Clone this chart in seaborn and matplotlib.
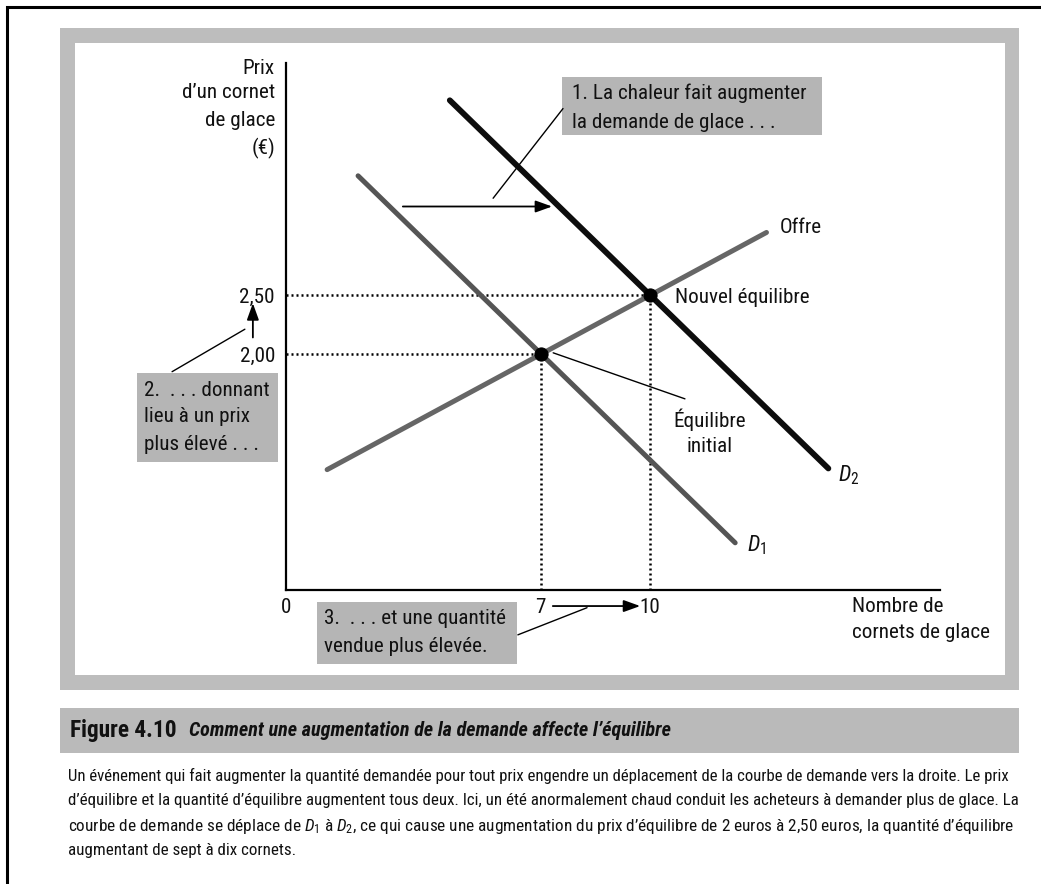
import seaborn as sns
import matplotlib.pyplot as plt
from matplotlib import font_manager as fm
from matplotlib.patches import Rectangle

plt.switch_backend("Agg")

W, H = 1041, 884

# values (quantity, price)
supply_q = [1.13, 13.2]
supply_p = [1.02, 3.03]
d1_q = [1.98, 12.34]
d1_p = [3.51, 0.40]
d2_q = [4.5, 14.9]
d2_p = [4.15, 1.03]
eq_q = [7, 10]
eq_p = [2.00, 2.50]
x_ticks = [0, 7, 10]
y_ticks = [2.00, 2.50]

caption_lines = [
    "Un événement qui fait augmenter la quantité demandée pour tout prix engendre un déplacement de la courbe de demande vers la droite. Le prix",
    "d’équilibre et la quantité d’équilibre augmentent tous deux. Ici, un été anormalement chaud conduit les acheteurs à demander plus de glace. La",
    "courbe de demande se déplace de $D_1$ à $D_2$, ce qui cause une augmentation du prix d’équilibre de 2 euros à 2,50 euros, la quantité d’équilibre",
    "augmentant de sept à dix cornets.",
]

sns.set_theme(style="white")

# pick a condensed face if one is installed
names = {f.name for f in fm.fontManager.ttflist}
narrow, stretch = None, "normal"
for cand in ["Liberation Sans Narrow", "Roboto Condensed", "Open Sans Condensed"]:
    if cand in names:
        narrow = cand
        break
if narrow is None:
    narrow = "DejaVu Sans"
    if any(f.name == "DejaVu Sans" and str(f.stretch) == "condensed" for f in fm.fontManager.ttflist):
        stretch = "condensed"
plt.rcParams["font.family"] = [narrow, "DejaVu Sans"]
plt.rcParams["font.stretch"] = stretch
plt.rcParams["mathtext.fontset"] = "custom"
plt.rcParams["mathtext.rm"] = narrow
plt.rcParams["mathtext.it"] = narrow + ":italic"

fig = plt.figure(figsize=(W / 100, H / 100), dpi=100)
renderer = fig.canvas.get_renderer()

# overlay in pixel coordinates for the page furniture
ov = fig.add_axes([0, 0, 1, 1], zorder=0)
ov.set_xlim(0, W)
ov.set_ylim(H, 0)
ov.axis("off")


def width_of(t):
    return t.get_window_extent(renderer).width


def fit(t, target):
    t.set_fontsize(t.get_fontsize() * target / width_of(t))
    return t.get_fontsize()


# page border + grey frame + caption bar
ov.plot([7, 7, W], [H, 7, 7], color="black", lw=2.2, solid_joinstyle="miter")
ov.add_patch(Rectangle((60, 28), 959, 662, color="#bdbdbd", lw=0))
ov.add_patch(Rectangle((75, 43), 930, 632, color="white", lw=0))
ov.add_patch(Rectangle((60, 708), 959, 45, color="#bababa", lw=0))

# chart font size from the width of the first callout
probe = ov.text(0, 0, "1. La chaleur fait augmenter", fontsize=14)
FS = fit(probe, 236)
probe.remove()

# callout boxes
box_col = "#b5b5b5"
ov.add_patch(Rectangle((562, 77), 260, 58, color=box_col, lw=0))
ov.add_patch(Rectangle((137, 373), 141, 89, color=box_col, lw=0))
ov.add_patch(Rectangle((317, 602), 200, 62, color=box_col, lw=0))


def lines(x, ys, texts, ha="left", **kw):
    for y, s in zip(ys, texts):
        ov.text(x, y, s, fontsize=FS, ha=ha, va="center", color="#111111", **kw)


lines(572, [93, 122], ["1. La chaleur fait augmenter", "la demande de glace . . ."])
lines(144, [390, 417, 445], ["2.  . . . donnant", "lieu à un prix", "plus élevé . . ."])
lines(324, [619, 646], ["3.  . . . et une quantité", "vendue plus élevée."])
lines(275, [68, 93, 121, 148], ["Prix", "d’un cornet", "de glace", "(€)"], ha="right")
lines(852, [606, 633], ["Nombre de", "cornets de glace"])

# main chart axes: q=0 at x=286 px, p=0 at y=590 px
X0, Y0, SX, SY = 286, 590, 36.4, 118
XMAX, YMAX = 19.5, 4.6
ax = fig.add_axes([X0 / W, 1 - Y0 / H, XMAX * SX / W, YMAX * SY / H], zorder=2)
ax.patch.set_alpha(0)
ax.set_xlim(0, XMAX)
ax.set_ylim(0, YMAX)
for s in ["top", "right"]:
    ax.spines[s].set_visible(False)
for s in ["left", "bottom"]:
    ax.spines[s].set_color("black")
    ax.spines[s].set_linewidth(1.6)
ax.spines["left"].set_bounds(0, 4.47)
ax.spines["bottom"].set_bounds(0, 17.97)

ax.set_xticks(x_ticks, [str(v) for v in x_ticks])
ax.set_yticks(y_ticks, [f"{v:.2f}".replace(".", ",") for v in y_ticks])
ax.tick_params(axis="x", length=0, pad=6, labelsize=FS, labelcolor="#111111")
ax.tick_params(axis="y", length=0, pad=8, labelsize=FS, labelcolor="#111111")

# dotted guides to the equilibria
for q, p in zip(eq_q, eq_p):
    ax.plot([0, q], [p, p], color="black", lw=1.8, ls=(0, (0.8, 1.2)), zorder=1)
    ax.plot([q, q], [0, p], color="black", lw=1.8, ls=(0, (0.8, 1.2)), zorder=1)

# curves
sns.lineplot(x=supply_q, y=supply_p, ax=ax, color="#666666", lw=3.6, sort=False,
             solid_capstyle="round", zorder=3)
sns.lineplot(x=d1_q, y=d1_p, ax=ax, color="#555555", lw=3.6, sort=False,
             solid_capstyle="round", zorder=3)
sns.lineplot(x=d2_q, y=d2_p, ax=ax, color="#0d0d0d", lw=4.2, sort=False,
             solid_capstyle="round", zorder=4)
sns.scatterplot(x=eq_q, y=eq_p, ax=ax, color="black", s=90, edgecolor="black",
                zorder=6, clip_on=False)

# labels on the chart
ax.text(10.69, 2.48, "Nouvel équilibre", fontsize=FS, va="center", color="#111111")
ax.text(11.65, 1.44, "Équilibre", fontsize=FS, va="center", ha="center", color="#111111")
ax.text(11.65, 1.22, "initial", fontsize=FS, va="center", ha="center", color="#111111")
ax.text(13.57, 3.07, "Offre", fontsize=FS, va="center", color="#111111")
ax.text(15.16, 0.97, "$D_2$", fontsize=FS * 1.05, va="center", color="#111111")
ax.text(12.66, 0.38, "$D_1$", fontsize=FS * 1.05, va="center", color="#111111")

arrow = dict(arrowstyle="-|>,head_length=0.5,head_width=0.18", color="black",
             lw=1.3, shrinkA=0, shrinkB=0, mutation_scale=20)
# demand shift arrow and its leader
ax.annotate("", xy=(7.31, 3.25), xytext=(3.21, 3.25), arrowprops=arrow)
ax.plot([5.69, 7.61], [3.32, 4.08], color="black", lw=1.0)
# price rise arrow and leader
ax.annotate("", xy=(-0.91, 2.43), xytext=(-0.91, 2.14), arrowprops=arrow,
            annotation_clip=False)
ax.plot([-3.13, -1.13], [1.85, 2.21], color="black", lw=1.0, clip_on=False)
# quantity rise arrow and leader
ax.annotate("", xy=(9.73, -0.136), xytext=(7.33, -0.136), arrowprops=arrow,
            annotation_clip=False)
ax.plot([6.37, 8.27], [-0.38, -0.15], color="black", lw=1.0, clip_on=False)
# initial equilibrium leader
ax.plot([7.34, 10.96], [2.01, 1.62], color="black", lw=1.0)

# caption bar title
t1 = ov.text(70, 731, "Figure 4.10", fontsize=15, fontweight="bold", va="center",
             color="#111111")
fit(t1, 107)
x_end = 70 + width_of(t1)
t2 = ov.text(x_end + 12, 731, "Comment une augmentation de la demande affecte l’équilibre",
             fontsize=14, fontweight="bold", style="italic", va="center", color="#111111")
fit(t2, 484)

# caption body, justified lines
sizes = []
for i, (y, s) in enumerate(zip([776, 801, 826, 851], caption_lines)):
    t = ov.text(68, y, s, fontsize=12, va="center", color="#111111")
    if i < 3:
        sizes.append(fit(t, 945))
    else:
        t.set_fontsize(sum(sizes) / len(sizes))

fig.savefig("out.png", dpi=100)
